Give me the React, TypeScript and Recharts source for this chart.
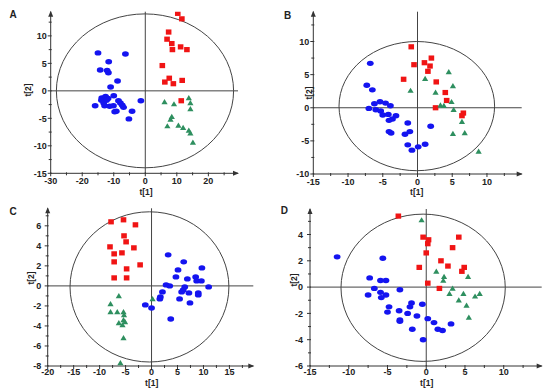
import React from 'react';
import { ScatterChart, Scatter, XAxis, YAxis, ReferenceLine, ReferenceArea, ReferenceDot } from 'recharts';

type Pt = { x: number; y: number };
const pts = (a: number[][]): Pt[] => a.map(([x, y]) => ({ x, y }));

const RED = '#f01414';
const BLUE = '#1414f0';
const GREEN = '#2e8f5f';
const INK = '#333';

// ---- panel A ----
const aRed = pts([
  [10.3, 14.1], [11.6, 13.1], [7.4, 10.7], [6.9, 9.4], [8.4, 8.6], [8.6, 7.5], [11.2, 8.0],
  [13.2, 7.5], [5.4, 4.6], [7.6, 2.3], [6.2, 1.6], [8.9, 1.3], [11.7, 1.9], [11.4, -1.8],
]);
const aGreen = pts([
  [6.1, -2.0], [9.1, -2.4], [13.8, -1.3], [14.3, -2.2], [14.3, -3.3], [8.4, -4.7], [8.0, -5.2],
  [7.0, -6.4], [10.5, -6.3], [12.0, -6.7], [13.8, -7.2], [14.3, -7.7], [15.1, -9.4],
]);
const aBlue = pts([
  [-15.0, 6.9], [-6.3, 6.7], [-11.6, 5.3], [-14.3, 3.8], [-12.1, 3.7], [-11.7, 3.3], [-8.8, 1.8],
  [-11.0, 0.7], [-1.4, -1.8], [-10.0, -0.9], [-13.8, -1.3], [-12.6, -1.0], [-11.8, -1.4], [-13.9, -1.7],
  [-12.3, -1.7], [-15.9, -2.7], [-12.9, -2.7], [-11.3, -2.8], [-10.1, -2.7], [-8.5, -1.8], [-7.9, -2.2],
  [-7.3, -2.6], [-6.9, -3.0], [-9.2, -3.7], [-9.7, -3.8], [-4.2, -3.7], [-5.2, -5.1], [-13.2, -2.2],
]);
const aXTicks = [-30, -25, -20, -15, -10, -5, 0, 5, 10, 15, 20, 25];
const aYTicks = [-15, -12.5, -10, -7.5, -5, -2.5, 0, 2.5, 5, 7.5, 10, 12.5];

// ---- panel B ----
const bRed = pts([
  [-0.9, 9.2], [-0.5, 6.5], [-2.0, 4.3], [1.0, 6.8], [2.0, 7.5], [1.8, 6.3], [1.5, 5.5],
  [2.7, 3.9], [4.0, 2.3], [4.2, 1.1], [2.6, 0.0], [6.6, -0.8], [6.4, -1.2],
]);
const bGreen = pts([
  [4.5, 5.4], [1.1, 4.4], [-1.0, 2.6], [2.6, 2.3], [5.1, 3.3], [3.3, 0.4], [3.8, 0.3],
  [4.9, 0.9], [5.2, -0.3], [6.4, -2.1], [5.1, -3.9], [6.8, -3.8], [8.8, -6.6],
]);
const bBlue = pts([
  [-6.8, 6.7], [-7.3, 3.4], [-6.5, 2.7], [-7.0, -0.1], [-6.2, 0.6], [-5.4, 0.9], [-4.6, 0.7],
  [-3.9, 0.3], [-6.0, -0.3], [-5.3, -0.5], [-5.0, -1.1], [-4.2, -1.0], [-3.1, -1.2], [-3.6, -1.7],
  [-4.1, -1.9], [-4.1, -3.6], [-3.8, -3.8], [-1.4, -2.3], [-1.1, -3.6], [-1.8, -4.0], [1.9, -2.8],
  [-1.4, -5.6], [-0.8, -6.4], [0.1, -5.9], [1.1, -5.5],
]);
const bXTicks = [-15, -12.5, -10, -7.5, -5, -2.5, 0, 2.5, 5, 7.5, 10, 12.5];
const bYTicks = [-10, -7.5, -5, -2.5, 0, 2.5, 5, 7.5, 10, 12.5];

// ---- panel C ----
const cRed = pts([
  [-7.8, 6.4], [-5.4, 6.6], [-3.1, 6.1], [-5.3, 5.0], [-4.9, 4.4], [-8.0, 3.9], [-3.4, 3.8],
  [-7.2, 3.2], [-5.7, 3.3], [-7.2, 2.4], [-2.2, 2.1], [-4.8, 1.7], [-7.2, 0.8], [-4.8, 0.8],
]);
const cGreen = pts([
  [-6.3, -1.0], [0.2, -1.3], [-7.9, -1.8], [-7.9, -2.6], [-6.6, -2.6], [-5.4, -2.6], [-5.3, -2.9],
  [-5.4, -3.4], [-5.1, -3.6], [-6.3, -3.7], [-5.6, -3.9], [-5.4, -5.2], [-6.0, -7.7],
]);
const cBlue = pts([
  [3.2, 3.1], [6.2, 2.4], [5.1, 1.6], [9.7, 1.8], [4.7, 0.9], [6.9, 0.7], [8.5, 0.9],
  [8.7, 0.5], [9.6, 0.5], [2.8, 0.1], [3.5, 0.0], [6.4, -0.1], [6.1, -0.4], [5.8, -0.6],
  [11.0, -0.1], [7.2, -0.7], [9.0, -0.7], [9.0, -0.9], [2.1, -0.6], [1.7, -1.1], [1.6, -1.3],
  [5.4, -1.3], [7.4, -1.7], [-1.2, -1.9], [0.0, -2.2], [3.7, -3.3],
]);
const cXTicks = [-20, -17.5, -15, -12.5, -10, -7.5, -5, -2.5, 0, 2.5, 5, 7.5, 10, 12.5, 15, 17.5];
const cYTicks = [-8, -7, -6, -5, -4, -3, -2, -1, 0, 1, 2, 3, 4, 5, 6, 7];

// ---- panel D ----
const dRed = pts([
  [-3.6, 5.4], [-0.4, 3.8], [0.3, 3.6], [0.2, 3.3], [0.0, 2.6], [4.2, 3.8], [3.4, 3.0],
  [1.9, 2.0], [2.8, 1.6], [4.9, 1.5], [4.6, 1.2], [-0.9, 1.5], [0.2, 0.3], [1.7, -0.1],
]);
const dGreen = pts([
  [-0.6, 5.1], [1.3, 1.2], [2.3, 0.8], [2.2, 0.5], [5.4, 0.8], [3.4, -0.1], [3.0, -0.5],
  [4.8, -0.5], [6.9, -0.5], [6.3, -0.7], [4.2, -1.0], [5.2, -1.4], [5.5, -2.3],
]);
const dBlue = pts([
  [-11.5, 2.3], [-5.6, 2.2], [-7.3, 0.7], [-5.9, 0.5], [-5.2, 0.5], [-6.7, -0.1], [-3.4, -0.2],
  [-7.5, -0.6], [-5.9, -0.4], [-5.2, -0.6], [-5.8, -0.8], [-4.8, -1.5], [-5.0, -1.9], [-3.5, -1.8],
  [-1.9, -1.2], [-2.1, -1.5], [-2.4, -2.0], [-3.4, -2.5], [-3.4, -2.6], [-1.2, -2.2], [-0.5, -1.3],
  [0.2, -2.4], [1.0, -2.7], [1.5, -3.2], [2.1, -3.3], [3.2, -2.8], [-1.8, -3.2], [-0.4, -4.0],
]);
const dXTicks = [-15, -12.5, -10, -7.5, -5, -2.5, 0, 2.5, 5, 7.5, 10, 12.5];
const dYTicks = [-6, -5, -4, -3, -2, -1, 0, 1, 2, 3, 4, 5];

interface Panel {
  letter: string;
  left: number;
  top: number;
  plot: { l: number; t: number; r: number; b: number };
  xDomain: [number, number];
  yDomain: [number, number];
  xTicks: number[];
  yTicks: number[];
  xMajor: number;
  yMajor: number;
  xLabelDy: number;
  yLabelGap: number;
  ellipse: [number, number, number, number];
  red: Pt[];
  green: Pt[];
  blue: Pt[];
  letterPos: [number, number];
  xTitlePos: [number, number];
  yTitlePos: [number, number];
}

const panels: Panel[] = [
  {
    letter: 'A', left: 0, top: 0, plot: { l: 50.7, t: 11.7, r: 238, b: 173.3 },
    xDomain: [-30, 29.4], yDomain: [-15, 14.4], xTicks: aXTicks, yTicks: aYTicks, xMajor: 10, yMajor: 5,
    xLabelDy: 7.5, yLabelGap: 4, ellipse: [-28.2, 28.0, -14, 14], red: aRed, green: aGreen, blue: aBlue,
    letterPos: [13, 15], xTitlePos: [146, 191.5], yTitlePos: [28.3, 90],
  },
  {
    letter: 'B', left: 275, top: 0, plot: { l: 38.3, t: 11.7, r: 246.7, b: 174 },
    xDomain: [-15, 15], yDomain: [-10, 14.5], xTicks: bXTicks, yTicks: bYTicks, xMajor: 5, yMajor: 5,
    xLabelDy: 8, yLabelGap: 4, ellipse: [-11.3, 11.1, -9.5, 10.0], red: bRed, green: bGreen, blue: bBlue,
    letterPos: [12.7, 15.7], xTitlePos: [141.7, 192], yTitlePos: [33.5, 93],
  },
  {
    letter: 'C', left: 0, top: 195, plot: { l: 47.7, t: 13.3, r: 253.3, b: 171 },
    xDomain: [-20, 19.6], yDomain: [-8, 7.75], xTicks: cXTicks, yTicks: cYTicks, xMajor: 5, yMajor: 2,
    xLabelDy: 6, yLabelGap: 6.5, ellipse: [-15.7, 14.9, -7.6, 7.4], red: cRed, green: cGreen, blue: cBlue,
    letterPos: [13, 16.7], xTitlePos: [151.7, 187.5], yTitlePos: [31, 83],
  },
  {
    letter: 'D', left: 275, top: 195, plot: { l: 35, t: 14, r: 266.7, b: 171 },
    xDomain: [-15, 14.9], yDomain: [-6, 5.94], xTicks: dXTicks, yTicks: dYTicks, xMajor: 5, yMajor: 2,
    xLabelDy: 6, yLabelGap: 7, ellipse: [-11.0, 10.2, -5.65, 5.55], red: dRed, green: dGreen, blue: dBlue,
    letterPos: [9.3, 16], xTitlePos: [151.7, 187.5], yTitlePos: [19, 85],
  },
];

const isMajor = (v: number, step: number) => Math.abs(v / step - Math.round(v / step)) < 1e-6;
const FONT = 'Liberation Sans, Arial, sans-serif';

const XTick = (props: any) => {
  const { x, y, payload, major, dy } = props;
  const big = isMajor(payload.value, major);
  return (
    <g>
      <line x1={x} x2={x} y1={y - 1} y2={y + (big ? 3 : 2)} stroke={INK} />
      {big && (
        <text x={x} y={y + dy + 3.2} textAnchor="middle" fontSize={9} fontWeight="bold" fill="#222" fontFamily={FONT}>
          {payload.value}
        </text>
      )}
    </g>
  );
};

const YTick = (props: any) => {
  const { x, y, payload, major, gap } = props;
  const big = isMajor(payload.value, major);
  return (
    <g>
      <line x1={x - (big ? 3 : 2)} x2={x + 1} y1={y} y2={y} stroke={INK} />
      {big && (
        <text x={x - gap} y={y + 3.2} textAnchor="end" fontSize={9} fontWeight="bold" fill="#222" fontFamily={FONT}>
          {payload.value}
        </text>
      )}
    </g>
  );
};

const BlueDot = (p: any) => <ellipse cx={p.cx} cy={p.cy} rx={3.4} ry={2.7} fill={BLUE} />;
const RedSquare = (p: any) => <rect x={p.cx - 2.8} y={p.cy - 2.6} width={5.6} height={5.2} fill={RED} />;
const GreenTri = (p: any) => (
  <path d={`M${p.cx},${p.cy - 2.9}L${p.cx + 3.1},${p.cy + 2.3}L${p.cx - 3.1},${p.cy + 2.3}Z`} fill={GREEN} />
);
const EllipseShape = (p: any) => (
  <ellipse cx={p.x + p.width / 2} cy={p.y + p.height / 2} rx={Math.abs(p.width) / 2} ry={Math.abs(p.height) / 2}
    fill="none" stroke="#444" strokeWidth={1} />
);
const ArrowRight = (p: any) => (
  <path d={`M${p.cx + 1},${p.cy}L${p.cx - 5},${p.cy - 2.5}L${p.cx - 5},${p.cy + 2.5}Z`} fill={INK} />
);
const ArrowUp = (p: any) => (
  <path d={`M${p.cx},${p.cy - 1}L${p.cx - 2.5},${p.cy + 5}L${p.cx + 2.5},${p.cy + 5}Z`} fill={INK} />
);

const W = 275;
const H = 195;
const textStyle: React.CSSProperties = {
  position: 'absolute',
  fontFamily: FONT,
  fontWeight: 'bold',
  color: '#222',
  whiteSpace: 'nowrap',
  lineHeight: 1,
};

const ScorePanel = ({ p }: { p: Panel }) => (
  <div style={{ position: 'absolute', left: p.left, top: p.top, width: W, height: H }}>
    <ScatterChart width={W} height={H} margin={{ top: p.plot.t, right: W - p.plot.r, left: 0, bottom: 0 }}>
      <XAxis type="number" dataKey="x" domain={p.xDomain} ticks={p.xTicks} interval={0} allowDataOverflow
        height={H - p.plot.b} tickLine={false} tickSize={0} tickMargin={0} axisLine={{ stroke: INK }}
        tick={(t: any) => <XTick {...t} major={p.xMajor} dy={p.xLabelDy} />} />
      <YAxis type="number" dataKey="y" domain={p.yDomain} ticks={p.yTicks} interval={0} allowDataOverflow
        width={p.plot.l} tickLine={false} tickSize={0} tickMargin={0} axisLine={{ stroke: INK }}
        tick={(t: any) => <YTick {...t} major={p.yMajor} gap={p.yLabelGap} />} />
      <ReferenceArea x1={p.ellipse[0]} x2={p.ellipse[1]} y1={p.ellipse[2]} y2={p.ellipse[3]}
        ifOverflow="visible" shape={EllipseShape} />
      <ReferenceLine x={0} stroke="#444" />
      <ReferenceLine y={0} stroke="#444" />
      <Scatter data={p.blue} shape={BlueDot} isAnimationActive={false} />
      <Scatter data={p.red} shape={RedSquare} isAnimationActive={false} />
      <Scatter data={p.green} shape={GreenTri} isAnimationActive={false} />
      <ReferenceDot x={p.xDomain[1]} y={p.yDomain[0]} ifOverflow="visible" shape={ArrowRight} />
      <ReferenceDot x={p.xDomain[0]} y={p.yDomain[1]} ifOverflow="visible" shape={ArrowUp} />
    </ScatterChart>
    <div style={{ ...textStyle, fontSize: 10, left: p.letterPos[0], top: p.letterPos[1], transform: 'translate(-50%, -50%)' }}>
      {p.letter}
    </div>
    <div style={{ ...textStyle, fontSize: 8.5, left: p.xTitlePos[0], top: p.xTitlePos[1], transform: 'translate(-50%, -50%)' }}>
      t[1]
    </div>
    <div style={{ ...textStyle, fontSize: 8.5, left: p.yTitlePos[0], top: p.yTitlePos[1], transform: 'translate(-50%, -50%) rotate(-90deg)' }}>
      t[2]
    </div>
  </div>
);

export default function App() {
  return (
    <div style={{ position: 'absolute', left: 0, top: 0, width: 550, height: 390, background: '#fff' }}>
      {panels.map((p) => (
        <ScorePanel key={p.letter} p={p} />
      ))}
    </div>
  );
}
